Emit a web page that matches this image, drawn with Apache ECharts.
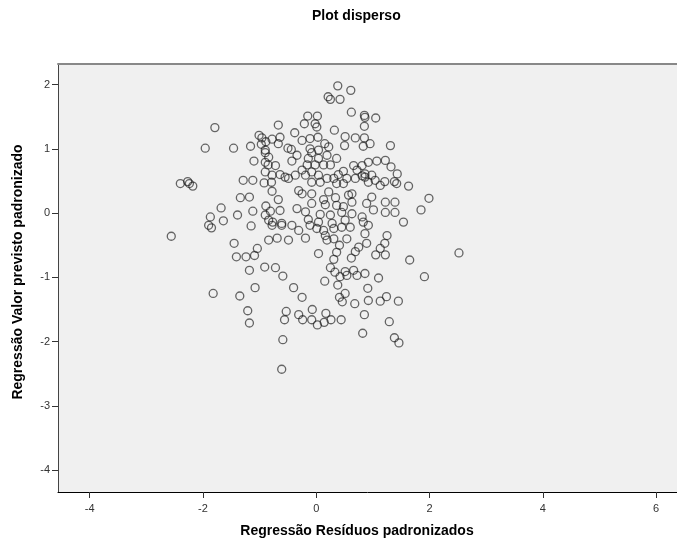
<!DOCTYPE html>
<html>
<head>
<meta charset="utf-8">
<script src="https://cdn.jsdelivr.net/npm/echarts@6/dist/echarts.min.js"></script>
<style>html,body{margin:0;padding:0;background:#fff;}#c{width:677px;height:541px;}</style>
</head>
<body>
<div id="c"></div>
<script>
var chartTitle = 'Plot disperso';
var xTitle = 'Regressão Resíduos padronizados';
var yTitle = 'Regressão Valor previsto padronizado';
var xTicks = [-4, -2, 0, 2, 4, 6];
var yTicks = [-4, -3, -2, -1, 0, 1, 2];

var resX = [
-1.79,-1.96,-1.46,-1.16,-1.01,-0.96,-0.97,-0.89,-1.10,-0.90,-0.90,-0.85,-2.40,-2.27,-2.24,-2.18,-1.29,-1.12,-0.92,-1.34,-1.18,-0.89,-1.68,-1.12,-1.39,-1.87,-1.64,-0.90,-1.90,-1.85,-1.15,-0.84,
-2.56,-1.45,-1.04,-1.41,-1.24,-1.09,-0.91,-1.18,-1.08,-1.82,-1.35,-1.21,-1.18,
-0.78,-0.61,-0.43,-0.31,-0.11,0.01,0.13,0.16,0.31,0.45,0.60,0.86,0.54,0.31,0.19,-0.19,-0.49,-0.69,-0.84,0.41,0.75,0.04,0.36,0.69,0.62,0.31,0.25,0.33,0.51,0.66,0.72,0.86,0.54,0.42,0.15,0.38,-0.72,-0.59,-0.40,-0.25,0.51,0.41,0.46,0.68,0.91,0.92,-0.53,-0.56,-0.31,-0.24,-0.07,-0.08,0.02,0.17,0.14,0.26,0.44,0.85,0.82,-0.59,-0.61,
1.25,0.89,1.21,1.13,1.05,1.22,1.65,2.52,1.10,1.91,1.13,1.24,1.45,1.29,1.38,1.46,
0.86,1.05,0.95,1.31,0.92,1.07,1.22,1.32,1.43,0.98,0.86,0.92,1.04,1.13,1.21,1.38,1.42,1.63,0.98,1.01,1.22,1.39,1.22,1.39,1.99,1.85,1.54,0.92,
0.38,0.61,0.21,0.25,0.42,0.62,0.85,-0.15,0.02,-0.21,-0.02,0.01,-0.67,0.85,0.32,-0.38,-0.78,-0.64,-0.67,-0.25,-0.11,0.03,0.15,0.51,0.69,0.85,0.50,0.83,-0.50,-0.44,-0.34,-0.43,-0.11,-0.08,0.04,0.22,0.19,0.36,0.04,-0.14,-0.02,0.13,0.25,-0.16,0.66,0.81,0.72,0.86,0.48,0.39,0.54,0.69,0.81,0.31,0.19,0.04,-0.08,-0.25,-0.19,-0.37,-0.55,-0.49,-0.64,-0.78,-0.90,-0.72,-0.84,-0.90,-0.79,-0.08,0.07,0.36,0.48,-0.31,-0.25,-0.08,0.22,0.57,0.63,-0.78,-0.67,0.13,0.34,-0.08,0.16,0.36,0.48,0.63,0.89,-0.34,-0.81,-0.64,-0.19,0.07,0.25,0.45,0.63,0.81,-0.77,-0.61,-0.14,0.04,0.28,0.51,0.83
];
var predY = [
1.33,1.01,1.01,1.04,1.21,1.17,1.07,1.11,0.81,0.94,0.79,0.75,0.46,0.49,0.46,0.42,0.51,0.51,0.47,0.24,0.25,0.11,0.08,0.03,-0.03,-0.06,-0.12,-0.03,-0.19,-0.23,-0.20,-0.11,
-0.36,-0.47,-0.55,-0.68,-0.68,-0.66,-0.84,-0.89,-1.16,-1.25,-1.29,-1.52,-1.71,
-0.19,-0.19,-0.19,-0.27,-0.19,-0.24,-0.27,-0.35,-0.24,-0.22,-0.22,-0.32,-0.40,-0.40,-0.42,-0.39,-0.42,-0.39,-0.42,-0.50,-0.53,-0.63,-0.61,-0.60,-0.70,-0.72,-0.85,-0.92,-0.91,-0.89,-0.97,-0.94,-0.97,-0.99,-1.06,-1.12,-0.85,-0.98,-1.16,-1.31,-1.25,-1.31,-1.38,-1.41,-1.17,-1.36,-1.53,-1.66,-1.58,-1.66,-1.50,-1.66,-1.74,-1.56,-1.70,-1.66,-1.66,-1.58,-1.87,-1.97,-2.43,
-0.35,-0.47,-0.47,-0.55,-0.65,-0.65,-0.73,-0.62,-1.01,-0.99,-1.37,-1.30,-1.37,-1.69,-1.94,-2.02,
1.49,1.48,1.08,1.05,0.79,0.81,0.82,0.72,0.61,0.59,0.56,0.48,0.51,0.43,0.49,0.49,0.46,0.42,0.25,0.05,0.17,0.17,0.01,0.01,0.23,0.05,-0.14,-0.19,
1.98,1.91,1.81,1.77,1.77,1.57,1.52,1.51,1.51,1.39,1.39,1.34,1.37,1.35,1.29,1.25,1.15,1.18,1.08,1.13,1.16,1.18,1.08,1.19,1.17,1.17,1.05,1.04,1.01,0.99,0.90,0.81,1.00,0.94,0.98,1.03,0.90,0.85,0.85,0.85,0.75,0.75,0.75,0.75,0.74,0.74,0.67,0.61,0.65,0.60,0.54,0.54,0.58,0.54,0.54,0.59,0.64,0.67,0.59,0.59,0.56,0.54,0.60,0.59,0.64,0.74,0.87,0.98,0.48,0.48,0.48,0.46,0.46,0.35,0.30,0.30,0.33,0.28,0.30,0.34,0.21,0.21,0.24,0.15,0.13,0.12,0.10,0.17,0.15,0.07,0.03,0.04,0.02,-0.02,-0.03,0.01,-0.01,-0.06,-0.14,-0.16,-0.10,-0.14,-0.16,-0.11,-0.14
];

var points = resX.map(function (x, i) { return [x, predY[i]]; });

var labelFont = '"Liberation Sans Narrow", "Liberation Sans", Arial, sans-serif';
var boldFont = '"Liberation Sans", Arial, sans-serif';

var chart = echarts.init(document.getElementById('c'), null, {renderer: 'canvas'});
chart.setOption({
  animation: false,
  backgroundColor: '#ffffff',
  grid: {
    left: 58, top: 64, right: 0, bottom: 49,
    show: true, backgroundColor: '#f0f0f0', borderWidth: 0
  },
  graphic: [
    {type: 'text', left: 'center', top: 9, style: {text: chartTitle, x: 0, font: 'bold 14px ' + boldFont, fill: '#000'}, left: 357 - 45},
    {type: 'text', style: {text: xTitle, x: 357, y: 531, align: 'center', verticalAlign: 'middle', font: 'bold 14px ' + boldFont, fill: '#000'}},
    {type: 'text', rotation: Math.PI / 2, x: 18, y: 272, style: {text: yTitle, x: 0, y: 0, align: 'center', verticalAlign: 'middle', font: 'bold 14px ' + boldFont, fill: '#000'}}
  ],
  xAxis: [{
    type: 'value', min: -4.56, max: 6.37, position: 'bottom',
    axisLine: {show: true, onZero: false, lineStyle: {color: '#000', width: 1}},
    axisTick: {show: true, length: 6, customValues: xTicks, lineStyle: {color: '#333'}},
    axisLabel: {customValues: xTicks, margin: 11, color: '#333', fontSize: 11, fontFamily: labelFont},
    splitLine: {show: false}
  }, {
    type: 'value', min: -4.56, max: 6.37, position: 'top',
    axisLine: {show: true, onZero: false, lineStyle: {color: '#888', width: 2}},
    axisTick: {show: false}, axisLabel: {show: false}, splitLine: {show: false}
  }],
  yAxis: {
    type: 'value', min: -4.34, max: 2.32,
    axisLine: {show: true, onZero: false, lineStyle: {color: '#444', width: 1}},
    axisTick: {show: true, length: 6, customValues: yTicks, lineStyle: {color: '#333'}},
    axisLabel: {customValues: yTicks, margin: 8, color: '#333', fontSize: 11, fontFamily: labelFont},
    splitLine: {show: false}
  },
  series: [{
    type: 'scatter',
    xAxisIndex: 0,
    data: points,
    symbol: 'circle',
    symbolSize: 8,
    itemStyle: {color: 'rgba(0,0,0,0)', borderColor: 'rgba(20,20,20,0.8)', borderWidth: 1.3}
  }]
});
</script>
</body>
</html>
